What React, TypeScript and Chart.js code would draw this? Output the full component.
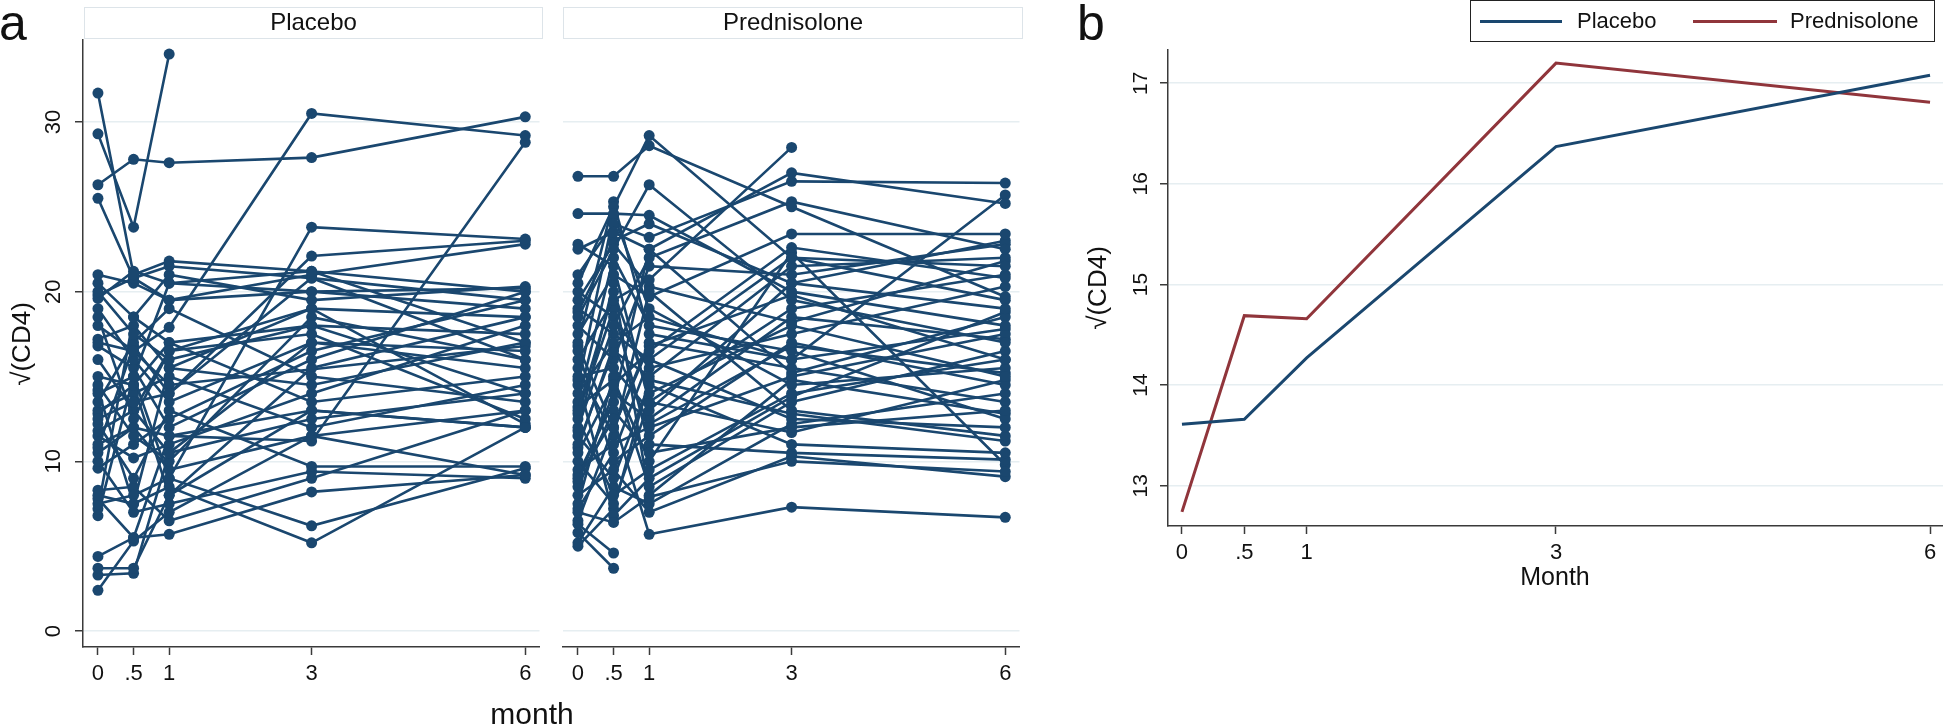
import React, { useEffect, useRef } from 'react';
import { Chart, registerables } from 'chart.js';

Chart.register(...registerables);

// ---------- data ----------
const months = [0, 0.5, 1, 3, 6];
const monthLabels = ['0', '.5', '1', '3', '6'];
const panelAYTicks = [0, 10, 20, 30];
const panelBYTicks = [13, 14, 15, 16, 17];
const groupNames = ['Placebo', 'Prednisolone'];

// Panel a, Placebo: one entry per subject, one array per month
const placeboM0 = [31.7, 29.3, 26.3, 25.5, 17.0, 11.0, 14.0, 12.5, 4.4, 3.7, 3.3, 2.4, 8.0, 7.5, 21.0, 20.5, 20.0, 19.6, 19.0, 18.5, 17.2, 16.8, 15.0, 14.5, 13.5, 13.0, 12.2, 11.8, 11.5, 10.8, 10.5, 10.0, 9.6, 8.3, 7.8, 7.2, 6.8, 19.8, 12.8, 16.0, 18.0, 14.2];
const placeboM05 = [21.0, 23.8, 27.8, 20.8, 16.5, 12.0, 15.0, 13.5, 5.5, 3.7, 3.4, 5.3, 7.5, 8.0, 20.5, 18.5, 17.5, 21.2, 16.0, 12.5, 18.0, 15.5, 14.5, 11.5, 17.0, 14.0, 9.0, 13.0, 10.2, 16.8, 12.0, 7.0, 11.0, 8.5, 5.5, 18.5, 15.0, 20.8, 14.5, 13.0, 16.5, 7.5];
const placeboM1 = [21.8, 34.0, 27.6, 21.5, 17.9, 11.5, 9.0, 14.0, 5.7, 8.0, 10.5, 7.0, 8.5, 9.0, 19.5, 21.0, 16.0, 20.5, 13.5, 16.5, 15.5, 12.0, 17.0, 10.0, 19.0, 15.0, 13.0, 16.5, 11.0, 14.0, 9.5, 7.5, 12.5, 6.5, 11.5, 17.0, 20.5, 19.5, 8.0, 10.5, 14.5, 15.5];
const placeboM3 = [21.2, null, 27.9, 20.8, 30.5, 11.2, 23.8, 22.1, 8.2, 13.0, 12.5, 11.5, 5.2, 6.2, 21.0, 19.5, 18.0, 20.0, 17.0, 19.0, 14.5, 16.0, 13.5, 18.5, 15.0, 12.0, 9.7, 17.5, 14.0, 20.8, 11.5, 9.4, 16.5, 9.0, 13.0, 18.0, 21.2, 20.0, 15.5, 17.0, null, 19.0];
const placeboM6 = [20.0, null, 30.3, 19.5, 29.2, 28.8, 23.1, 23.0, 9.2, 12.0, 14.0, 13.0, 12.0, 9.6, 22.8, 20.3, 17.5, 19.0, 16.5, 18.5, 17.0, 20.0, 15.0, 16.0, 13.5, 14.5, 9.7, 12.5, 18.0, 16.0, 9.2, 9.0, 19.5, 13.0, 12.0, 14.0, 17.0, 20.2, 18.5, 15.5, 16.8, 12.2];

// Panel a, Prednisolone
const predM0 = [26.8, 24.6, 20.5, 18.5, 16.0, 22.5, 21.0, 9.0, 6.3, 5.8, 7.0, 8.0, 17.5, 12.0, 14.0, 10.5, 11.0, 13.0, 15.0, 9.5, 8.5, 12.5, 16.5, 19.0, 7.5, 10.0, 6.5, 13.5, 11.5, 18.0, 14.5, 8.8, 20.0, 15.5, 12.8, 7.2, 5.2, 9.2, 17.0, 22.8, 11.8, 16.8, 14.8, 19.5, 10.8, 13.2, 5.0, 18.8];
const predM05 = [26.8, 24.6, 25.0, 22.5, 19.5, 23.5, 24.0, 12.5, 4.6, 3.7, 6.4, 9.5, 21.0, 18.0, 17.0, 14.5, 16.5, 20.0, 15.5, 11.0, 13.0, 8.0, 10.0, 17.5, 15.0, 7.5, 12.0, 22.0, 9.0, 16.0, 24.5, 14.0, 18.5, 11.5, 19.0, 10.5, 8.5, 13.5, 25.3, 21.5, 20.5, 12.0, 6.8, 22.8, 16.8, 14.8, 7.2, 23.0];
const predM1 = [28.6, 24.5, 29.2, 26.3, 20.7, 22.5, 23.2, 5.7, null, null, 7.9, 7.0, 19.7, 22.0, 18.5, 16.5, 15.0, 14.0, 13.0, 12.0, 10.5, 9.5, 11.5, 16.0, 8.5, 13.5, 17.0, 18.0, 14.5, 21.5, 19.0, 12.5, 15.5, 20.0, 11.0, 16.0, 7.5, 22.5, 17.5, 13.5, 8.0, 16.8, 9.0, 20.3, 12.2, 10.0, 14.8, 24.0];
const predM3 = [25.0, 20.0, 22.0, 19.5, 28.5, 27.0, 26.5, 7.3, null, null, 10.0, 10.3, 23.4, 25.3, 16.0, 22.6, 21.5, 18.0, 20.5, 15.0, 12.0, 14.0, 17.0, 12.5, 13.5, 19.0, 15.5, 16.5, 11.0, 21.0, 14.5, 18.5, 17.5, 13.0, 10.5, 22.0, 12.2, 15.2, 16.0, 11.7, 14.8, 19.8, 13.8, 18.2, 16.8, 22.3, 12.8, 20.5];
const predM6 = [19.7, 18.0, 21.5, 17.0, null, 25.2, 26.4, 6.7, null, null, 9.4, 9.1, 23.4, 22.5, 25.7, 20.8, 22.0, 15.0, 19.0, 17.5, 13.0, 16.0, 14.5, 12.0, 16.5, 21.0, 13.5, 12.5, 10.5, 22.8, 15.5, 17.2, 20.3, 11.5, 10.1, 19.5, 14.0, 18.5, 17.8, 14.8, 12.8, 16.0, 18.8, 21.8, 15.2, 9.8, 11.2, 23.0];

// Panel b: group means
const placeboMean = [13.61, 13.66, 14.27, 16.37, 17.08];
const prednisoloneMean = [12.74, 14.69, 14.66, 17.20, 16.81];

// ---------- styles ----------
const NAVY = '#1a476f';
const MAROON = '#90353b';
const GRID = '#e6eef1';
const AXIS = '#3a3a3a';
const TEXT = '#111111';
const FONT = '"Liberation Sans", Arial, Helvetica, sans-serif';

type Num = number | null;

function subjectDatasets(cols: Num[][]) {
  const n = cols[0].length;
  const out: any[] = [];
  for (let i = 0; i < n; i++) {
    out.push({
      data: months.map((m, j) => ({ x: m, y: cols[j][i] })),
      borderColor: NAVY,
      backgroundColor: NAVY,
      borderWidth: 2.6,
      pointRadius: 5.5,
      pointBorderWidth: 0,
      pointBackgroundColor: NAVY,
      pointHoverRadius: 5.5,
      spanGaps: true,
      tension: 0,
    });
  }
  return out;
}

const rotatedYLabels = {
  id: 'rotatedYLabels',
  afterDraw(chart: any, _args: any, opts: any) {
    if (!opts || !opts.display) return;
    const s = chart.scales.y;
    const ctx = chart.ctx;
    ctx.save();
    ctx.fillStyle = TEXT;
    ctx.font = `${opts.size}px ${FONT}`;
    ctx.textAlign = 'center';
    ctx.textBaseline = 'middle';
    for (const v of opts.values) {
      const y = s.getPixelForValue(v);
      ctx.save();
      ctx.translate(opts.x, y);
      ctx.rotate(-Math.PI / 2);
      ctx.fillText(String(v), 0, 0);
      ctx.restore();
    }
    ctx.restore();
  },
};

function xScale(min: number, max: number, height: number) {
  return {
    type: 'linear',
    min,
    max,
    afterBuildTicks: (s: any) => {
      s.ticks = months.map((v) => ({ value: v }));
    },
    afterFit: (s: any) => {
      s.height = height;
    },
    ticks: {
      autoSkip: false,
      maxRotation: 0,
      minRotation: 0,
      color: TEXT,
      padding: 6,
      font: { family: FONT, size: 22 },
      callback: (v: any) => {
        const i = months.indexOf(Number(v));
        return i >= 0 ? monthLabels[i] : '';
      },
    },
    grid: { drawOnChartArea: false, drawTicks: true, tickLength: 8, tickColor: AXIS, tickWidth: 1.5 },
    border: { display: true, color: AXIS, width: 1.5 },
  };
}

function yScale(min: number, max: number, width: number, ticks: number[], showAxis: boolean) {
  return {
    type: 'linear',
    min,
    max,
    afterBuildTicks: (s: any) => {
      s.ticks = ticks.map((v) => ({ value: v }));
    },
    afterFit: (s: any) => {
      s.width = width;
    },
    ticks: { display: false },
    grid: {
      color: GRID,
      lineWidth: 1.5,
      drawTicks: showAxis,
      tickLength: 8,
      tickColor: AXIS,
      tickWidth: 1.5,
    },
    border: { display: showAxis, color: AXIS, width: 1.5 },
  };
}

function spaghettiConfig(cols: Num[][], yWidth: number, showAxis: boolean, labelX: number) {
  return {
    type: 'line',
    data: { datasets: subjectDatasets(cols) },
    plugins: [rotatedYLabels],
    options: {
      animation: false,
      responsive: false,
      devicePixelRatio: 1,
      events: [],
      layout: { padding: { left: 0, top: 40, right: 2, bottom: 0 } },
      scales: {
        x: xScale(-0.21, 6.2, 77),
        y: yScale(-0.94, 34.83, yWidth, panelAYTicks, showAxis),
      },
      plugins: {
        legend: { display: false },
        tooltip: { enabled: false },
        rotatedYLabels: { display: showAxis, values: panelAYTicks, x: labelX, size: 22 },
      },
    },
  } as any;
}

function meansConfig() {
  return {
    type: 'line',
    data: {
      datasets: [
        {
          label: groupNames[0],
          data: months.map((m, i) => ({ x: m, y: placeboMean[i] })),
          borderColor: NAVY,
          backgroundColor: NAVY,
          borderWidth: 3,
          pointRadius: 0,
          tension: 0,
        },
        {
          label: groupNames[1],
          data: months.map((m, i) => ({ x: m, y: prednisoloneMean[i] })),
          borderColor: MAROON,
          backgroundColor: MAROON,
          borderWidth: 3,
          pointRadius: 0,
          tension: 0,
        },
      ],
    },
    plugins: [rotatedYLabels],
    options: {
      animation: false,
      responsive: false,
      devicePixelRatio: 1,
      events: [],
      layout: { padding: { left: 0, top: 50, right: 0, bottom: 0 } },
      scales: {
        x: xScale(-0.112, 6.104, 198),
        y: yScale(12.6, 17.33, 138, panelBYTicks, true),
      },
      plugins: {
        legend: { display: false },
        tooltip: { enabled: false },
        rotatedYLabels: { display: true, values: panelBYTicks, x: 111, size: 21 },
      },
    },
  } as any;
}

const abs = (s: React.CSSProperties): React.CSSProperties => ({ position: 'absolute', ...s });

export default function App() {
  const refA = useRef<HTMLCanvasElement>(null);
  const refB = useRef<HTMLCanvasElement>(null);
  const refC = useRef<HTMLCanvasElement>(null);

  useEffect(() => {
    const charts = [
      new Chart(refA.current!, spaghettiConfig([placeboM0, placeboM05, placeboM1, placeboM3, placeboM6], 83, true, 54)),
      new Chart(refB.current!, spaghettiConfig([predM0, predM05, predM1, predM3, predM6], 18, false, 0)),
      new Chart(refC.current!, meansConfig()),
    ];
    return () => charts.forEach((c) => c.destroy());
  }, []);

  const header: React.CSSProperties = {
    top: 7,
    height: 32,
    boxSizing: 'border-box',
    border: '1px solid #dde4e9',
    textAlign: 'center',
    fontSize: 24,
    lineHeight: '27px',
  };
  const yTitle: React.CSSProperties = {
    transform: 'translate(-50%, -50%) rotate(-90deg)',
    fontSize: 26,
    lineHeight: '26px',
    whiteSpace: 'nowrap',
  };

  return (
    <div style={abs({ left: 0, top: 0, width: 1943, height: 724, overflow: 'hidden', background: '#ffffff', fontFamily: FONT, color: TEXT })}>
      <canvas ref={refA} width={545} height={724} style={abs({ left: 0, top: 0, width: 545, height: 724 })} />
      <canvas ref={refB} width={480} height={724} style={abs({ left: 545, top: 0, width: 480, height: 724 })} />
      <canvas ref={refC} width={913} height={724} style={abs({ left: 1030, top: 0, width: 913, height: 724 })} />

      <div style={abs({ left: -1, top: -2, fontSize: 50, lineHeight: '50px' })}>a</div>
      <div style={abs({ left: 1077, top: -2, fontSize: 50, lineHeight: '50px' })}>b</div>

      <div style={abs({ ...header, left: 84, width: 459 })}>{groupNames[0]}</div>
      <div style={abs({ ...header, left: 563, width: 460 })}>{groupNames[1]}</div>

      <div style={abs({ ...yTitle, left: 21, top: 344 })}>√(CD4)</div>
      <div style={abs({ ...yTitle, left: 1097, top: 288 })}>√(CD4)</div>

      <div style={abs({ left: 532, top: 699, transform: 'translateX(-50%)', fontSize: 30, lineHeight: '30px', whiteSpace: 'nowrap' })}>month</div>
      <div style={abs({ left: 1555, top: 564, transform: 'translateX(-50%)', fontSize: 25, lineHeight: '25px', whiteSpace: 'nowrap' })}>Month</div>

      <div style={abs({ left: 1470, top: 0, width: 465, height: 42, boxSizing: 'border-box', border: '1.5px solid #222' })} />
      <div style={abs({ left: 1480, top: 19.5, width: 82, height: 3, background: NAVY })} />
      <div style={abs({ left: 1577, top: 10, fontSize: 22, lineHeight: '22px', whiteSpace: 'nowrap' })}>{groupNames[0]}</div>
      <div style={abs({ left: 1693, top: 19.5, width: 84, height: 3, background: MAROON })} />
      <div style={abs({ left: 1790, top: 10, fontSize: 22, lineHeight: '22px', whiteSpace: 'nowrap' })}>{groupNames[1]}</div>
    </div>
  );
}
